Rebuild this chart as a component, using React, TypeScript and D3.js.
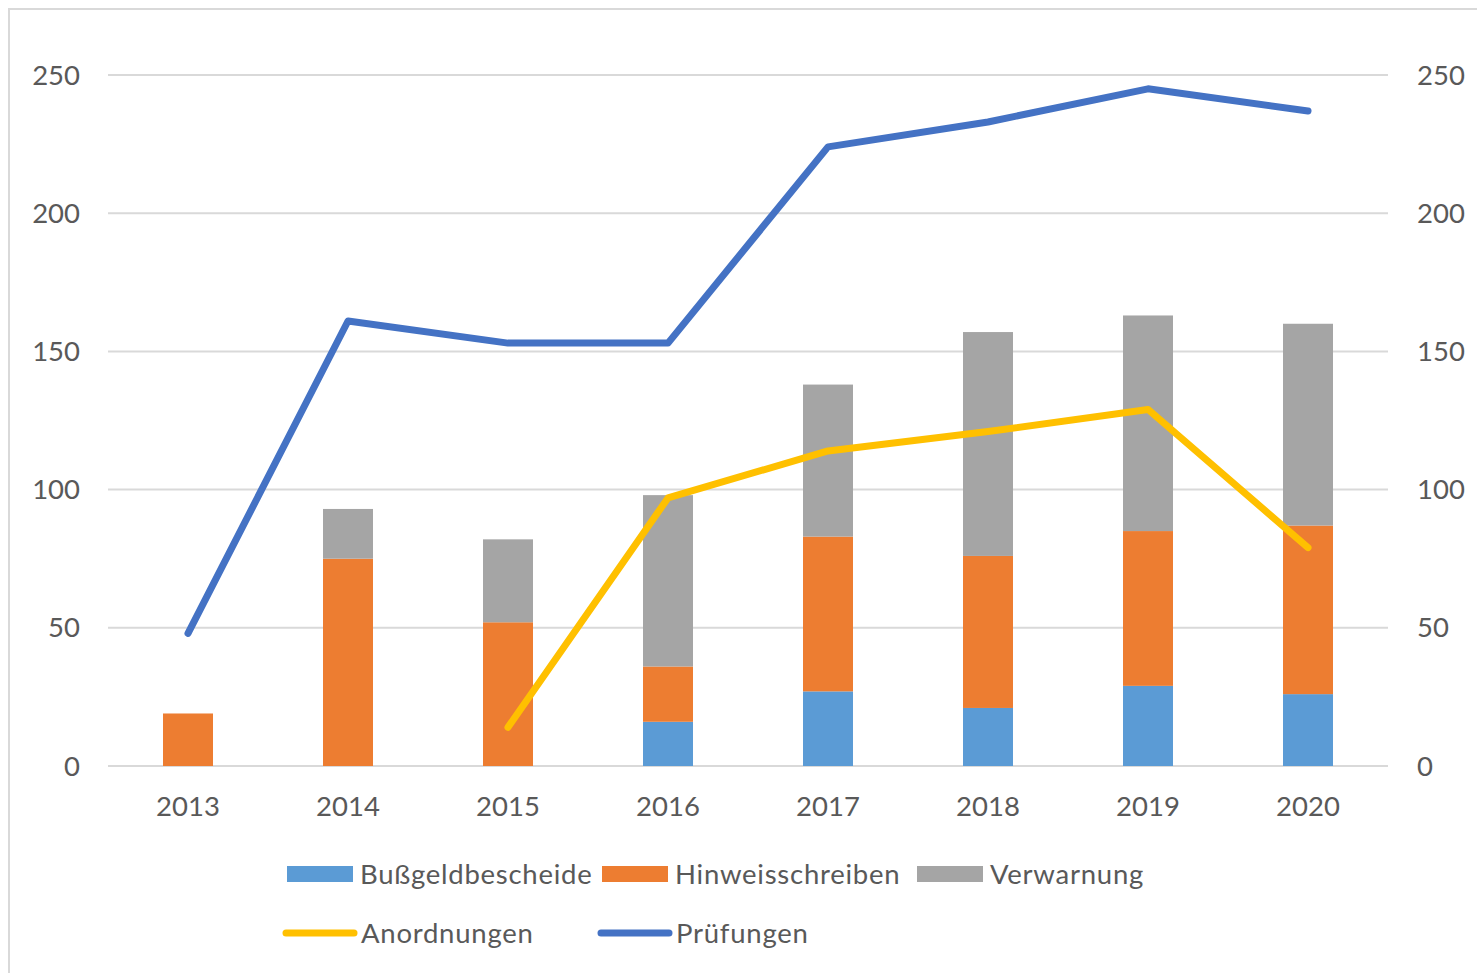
import React, { useEffect, useRef } from 'react';
import * as d3 from 'd3';

const width = 1477,
      height = 973;

// values
const years = ['2013', '2014', '2015', '2016', '2017', '2018', '2019', '2020'];
const bussgeldbescheide = [0, 0, 0, 16, 27, 21, 29, 26];
const hinweisschreiben = [19, 75, 52, 20, 56, 55, 56, 61];
const verwarnung = [0, 18, 30, 62, 55, 81, 78, 73];
const anordnungen = [null, null, 14, 97, 114, 121, 129, 79];
const pruefungen = [48, 161, 153, 153, 224, 233, 245, 237];
const yTicks = [0, 50, 100, 150, 200, 250];

const barSeries = ['Bußgeldbescheide', 'Hinweisschreiben', 'Verwarnung'];
const barColors = ['#5B9BD5', '#ED7D31', '#A5A5A5'];
const lineSeries = ['Anordnungen', 'Prüfungen'];
const lineColors = ['#FFC000', '#4472C4'];

const font = 'Lato, Carlito, Calibri, sans-serif';
const textColor = '#595959';

const App = () => {
    const ref = useRef<SVGSVGElement>(null);

    useEffect(() => {
        const svg = d3.select(ref.current);
        svg.html('');

        // chart frame
        svg.append('rect')
            .attr('x', 9).attr('y', 9)
            .attr('width', 1500).attr('height', 1000)
            .attr('fill', '#fff')
            .attr('stroke', '#d9d9d9')
            .attr('stroke-width', 2);

        const x = d3.scaleBand()
            .domain(years)
            .range([108, 1388])
            .paddingInner(0.6875)
            .paddingOuter(0.34375);

        const y = d3.scaleLinear().domain([0, 250]).range([766, 75]);

        // gridlines
        svg.append('g').selectAll('line')
            .data(yTicks).enter().append('line')
            .attr('x1', 108).attr('x2', 1388)
            .attr('y1', d => y(d)).attr('y2', d => y(d))
            .attr('stroke', '#d9d9d9')
            .attr('stroke-width', 2);

        // left and right tick labels
        const tickText = (g, anchor, xPos) => g.selectAll('text')
            .data(yTicks).enter().append('text')
            .attr('x', xPos)
            .attr('y', d => y(d))
            .attr('dy', '0.35em')
            .attr('text-anchor', anchor)
            .attr('font-family', font)
            .attr('font-size', 27.5)
            .attr('fill', textColor)
            .text(d => d);
        tickText(svg.append('g'), 'end', 80);
        tickText(svg.append('g'), 'start', 1417);

        // year labels
        svg.append('g').selectAll('text')
            .data(years).enter().append('text')
            .attr('x', d => x(d) + x.bandwidth() / 2)
            .attr('y', 806)
            .attr('dy', '0.35em')
            .attr('text-anchor', 'middle')
            .attr('font-family', font)
            .attr('font-size', 27.5)
            .attr('fill', textColor)
            .text(d => d);

        // stacked bars
        const rows = years.map((yr, i) => ({
            year: yr,
            [barSeries[0]]: bussgeldbescheide[i],
            [barSeries[1]]: hinweisschreiben[i],
            [barSeries[2]]: verwarnung[i],
        }));
        const stacked = d3.stack().keys(barSeries)(rows);

        svg.append('g').selectAll('g')
            .data(stacked).enter().append('g')
            .attr('fill', (d, i) => barColors[i])
            .selectAll('rect')
            .data(d => d.filter(s => s[1] > s[0])).enter().append('rect')
            .attr('x', d => x(d.data.year))
            .attr('width', x.bandwidth())
            .attr('y', d => y(d[1]))
            .attr('height', d => y(d[0]) - y(d[1]));

        // lines
        const line = d3.line()
            .defined(d => d[1] != null)
            .x(d => x(d[0]) + x.bandwidth() / 2)
            .y(d => y(d[1]));

        [anordnungen, pruefungen].forEach((vals, i) => {
            svg.append('path')
                .datum(years.map((yr, j) => [yr, vals[j]]))
                .attr('d', line)
                .attr('fill', 'none')
                .attr('stroke', lineColors[i])
                .attr('stroke-width', 7)
                .attr('stroke-linejoin', 'round')
                .attr('stroke-linecap', 'round');
        });

        // legend
        const legend = svg.append('g')
            .attr('font-family', font)
            .attr('font-size', 27.5)
            .attr('letter-spacing', 0.75)
            .attr('fill', textColor);

        const barLegendX = [287, 602, 917];
        barSeries.forEach((name, i) => {
            legend.append('rect')
                .attr('x', barLegendX[i]).attr('y', 866)
                .attr('width', 66).attr('height', 16)
                .attr('fill', barColors[i]);
            legend.append('text')
                .attr('x', barLegendX[i] + 73).attr('y', 874)
                .attr('dy', '0.35em')
                .text(name);
        });

        const lineLegendX = [286, 601];
        lineSeries.forEach((name, i) => {
            legend.append('line')
                .attr('x1', lineLegendX[i]).attr('x2', lineLegendX[i] + 68)
                .attr('y1', 933).attr('y2', 933)
                .attr('stroke', lineColors[i])
                .attr('stroke-width', 7)
                .attr('stroke-linecap', 'round');
            legend.append('text')
                .attr('x', lineLegendX[i] + 75).attr('y', 933)
                .attr('dy', '0.35em')
                .text(name);
        });
    }, []);

    return (
        <svg
            ref={ref}
            width={width}
            height={height}
            style={{ position: 'absolute', left: 0, top: 0, background: '#fff' }}
        />
    );
};

export default App;
